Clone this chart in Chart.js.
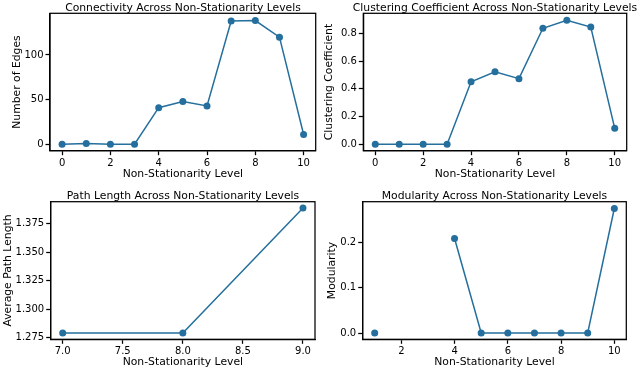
<!DOCTYPE html>
<html>
<head>
<meta charset="utf-8">
<script src="https://cdn.jsdelivr.net/npm/chart.js@4"></script>
<style>
  html, body { margin: 0; padding: 0; background: #fff; }
  body { width: 640px; height: 371px; position: relative; overflow: hidden; }
  .panel { position: absolute; }
</style>
</head>
<body>
<div class="panel" style="left:0;top:0;width:366px;height:185px"><canvas id="c1"></canvas></div>
<div class="panel" style="left:320px;top:0;width:350px;height:185px"><canvas id="c2"></canvas></div>
<div class="panel" style="left:0;top:185px;width:366px;height:186px"><canvas id="c3"></canvas></div>
<div class="panel" style="left:320px;top:185px;width:349px;height:186px"><canvas id="c4"></canvas></div>
<script>
// ---- data ----
const levels = [0, 1, 2, 3, 4, 5, 6, 7, 8, 9, 10];
const numEdges = [0, 1, 0, 0, 41, 48, 43, 138, 138.5, 120, 11];
const clustering = [0, 0, 0, 0, 0.451, 0.523, 0.473, 0.836, 0.894, 0.845, 0.115];
const pathLevels = [7, 8, 9];
const pathLength = [1.2790, 1.2790, 1.3890];
const modLevels = [1, 2, 3, 4, 5, 6, 7, 8, 9, 10];
const modularity = [0, null, null, 0.208, 0, 0, 0, 0, 0, 0.274];

const levelTicks = [0, 2, 4, 6, 8, 10];
const edgeTicks = [0, 50, 100];
const clusterTicks = [0, 0.2, 0.4, 0.6, 0.8];
const pathXTicks = [7.0, 7.5, 8.0, 8.5, 9.0];
const pathYTicks = [1.275, 1.300, 1.325, 1.350, 1.375];
const modXTicks = [2, 4, 6, 8, 10];
const modYTicks = [0, 0.1, 0.2];

// ---- style ----
const FONT = 'DejaVu Sans';
const COLOR = '#246f9d';

const boxPlugin = {
  id: 'box',
  afterDraw(chart) {
    const {ctx, chartArea: a} = chart;
    ctx.save();
    ctx.strokeStyle = '#000';
    ctx.lineWidth = 1.25;
    ctx.strokeRect(a.left, a.top, a.right - a.left, a.bottom - a.top);
    ctx.restore();
  }
};

function makeChart(id, cfg) {
  const pts = cfg.xs.map((x, i) => ({x: x, y: cfg.ys[i]}));
  return new Chart(document.getElementById(id), {
    type: 'line',
    data: {
      datasets: [{
        data: pts,
        borderColor: COLOR,
        backgroundColor: COLOR,
        borderWidth: 1.5,
        pointRadius: 3.5,
        pointBorderWidth: 0,
        pointBackgroundColor: COLOR,
        spanGaps: false,
        tension: 0,
        yAxisID: 'y'
      }]
    },
    options: {
      responsive: true,
      maintainAspectRatio: false,
      animation: false,
      devicePixelRatio: 1,
      layout: { padding: { top: cfg.padTop, right: 0, bottom: 0, left: 0 } },
      plugins: {
        legend: { display: false },
        tooltip: { enabled: false },
        title: {
          display: true,
          text: cfg.title,
          fullSize: true,
          color: '#000',
          font: { family: FONT, size: 10.8, weight: 'normal', lineHeight: 1 },
          padding: { top: 2.5, bottom: 0 }
        }
      },
      scales: {
        x: {
          type: 'linear',
          min: cfg.xmin, max: cfg.xmax,
          afterBuildTicks: s => { s.ticks = cfg.xticks.map(v => ({value: v})); },
          afterFit: s => { s.height = cfg.xh; },
          grid: { drawOnChartArea: false, drawTicks: true, tickLength: 4.5, tickWidth: 1.25, tickColor: '#000' },
          border: { display: true, color: '#000', width: 1.25 },
          ticks: {
            color: '#000', padding: 2, maxRotation: 0, autoSkip: false,
            font: { family: FONT, size: 10 },
            callback: v => cfg.xfmt(v)
          },
          title: {
            display: true, text: 'Non-Stationarity Level', color: '#000',
            font: { family: FONT, size: 10.8, lineHeight: 1 }, padding: { top: 0, bottom: cfg.xTitlePad }
          }
        },
        y: {
          type: 'linear',
          position: 'left',
          min: cfg.ymin, max: cfg.ymax,
          afterBuildTicks: s => { s.ticks = cfg.yticks.map(v => ({value: v})); },
          afterFit: s => { s.width = cfg.yw; },
          grid: { drawOnChartArea: false, drawTicks: true, tickLength: 4.5, tickWidth: 1.25, tickColor: '#000' },
          border: { display: true, color: '#000', width: 1.25 },
          ticks: {
            color: '#000', padding: 2, autoSkip: false,
            font: { family: FONT, size: 10 },
            callback: v => cfg.yfmt(v)
          },
          title: {
            display: true, text: cfg.ylabel, color: '#000',
            font: { family: FONT, size: 10.8, lineHeight: 1 }, padding: { top: cfg.yTitlePad, bottom: 0 }
          }
        },
        yr: {
          type: 'linear',
          position: 'right',
          display: true,
          afterFit: s => { s.width = cfg.rw; },
          grid: { display: false },
          border: { display: false },
          ticks: { display: false }
        }
      }
    },
    plugins: [boxPlugin]
  });
}

const intFmt = v => String(Math.round(v));

makeChart('c1', {
  title: 'Connectivity Across Non-Stationarity Levels',
  ylabel: 'Number of Edges',
  xs: levels, ys: numEdges,
  xmin: -0.5, xmax: 10.5, ymin: -7.2, ymax: 146.7,
  xticks: levelTicks, yticks: edgeTicks,
  xfmt: intFmt, yfmt: intFmt,
  padTop: 0, xh: 34.3, yw: 50, rw: 50.3, yTitlePad: 11.6, xTitlePad: 5.7
});

makeChart('c2', {
  title: 'Clustering Coefficient Across Non-Stationarity Levels',
  ylabel: 'Clustering Coefficient',
  xs: levels, ys: clustering,
  xmin: -0.5, xmax: 10.5, ymin: -0.046, ymax: 0.944,
  xticks: levelTicks, yticks: clusterTicks,
  xfmt: intFmt, yfmt: v => v.toFixed(1),
  padTop: 0, xh: 34.3, yw: 43.3, rw: 43.3, yTitlePad: 3.6, xTitlePad: 5.7
});

makeChart('c3', {
  title: 'Path Length Across Non-Stationarity Levels',
  ylabel: 'Average Path Length',
  xs: pathLevels, ys: pathLength,
  xmin: 6.9, xmax: 9.1, ymin: 1.2735, ymax: 1.3945,
  xticks: pathXTicks, yticks: pathYTicks,
  xfmt: v => v.toFixed(1), yfmt: v => v.toFixed(3),
  padTop: 3.4, xh: 31.7, yw: 50.7, rw: 51, yTitlePad: 2.6, xTitlePad: 3.3
});

makeChart('c4', {
  title: 'Modularity Across Non-Stationarity Levels',
  ylabel: 'Modularity',
  xs: modLevels, ys: modularity,
  xmin: 0.55, xmax: 10.45, ymin: -0.0138, ymax: 0.289,
  xticks: modXTicks, yticks: modYTicks,
  xfmt: intFmt, yfmt: v => v.toFixed(1),
  padTop: 3.4, xh: 31.7, yw: 42.7, rw: 42.7, yTitlePad: 7.1, xTitlePad: 3.3
});
</script>
</body>
</html>
